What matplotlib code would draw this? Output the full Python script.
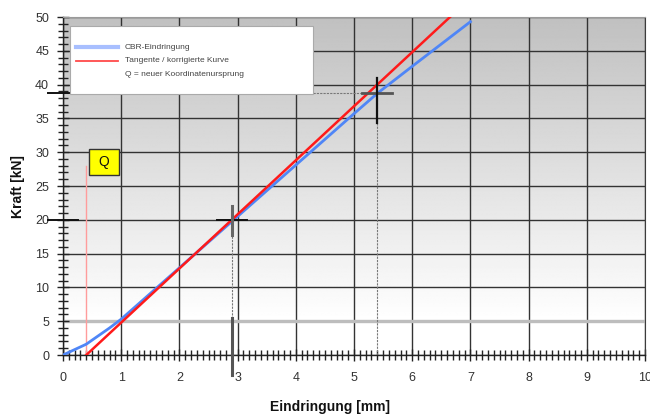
import numpy as np
import matplotlib
matplotlib.use("Agg")
import matplotlib.pyplot as plt
from matplotlib.ticker import MultipleLocator
from matplotlib.patches import Rectangle
from matplotlib.lines import Line2D

plt.rcParams['font.family'] = ['Liberation Sans', 'DejaVu Sans']

# Measured CBR penetration curve
penetration_mm = [0.0, 0.2, 0.4, 0.6, 0.8, 1.0, 1.5, 2.0, 2.5, 3.0, 3.5, 4.0,
                  4.5, 5.0, 5.4, 6.0, 6.5, 7.0]
force_kn = [0.0, 0.8, 1.6, 2.8, 4.0, 5.3, 9.1, 12.9, 16.7, 20.5, 24.3, 28.1,
            31.9, 35.7, 38.7, 42.7, 46.0, 49.3]

# Tangent / corrected curve
tangent_mm = [0.4, 6.65]
tangent_kn = [0.0, 50.0]

# New coordinate origin Q
origin_q_mm = 0.4
q_marker_top_kn = 28.0

# Readings at 2.5 mm and 5.0 mm, shifted by Q
read_mm = [2.9, 5.4]
read_kn = [20.0, 38.7]

x_ticks = list(range(0, 11))
y_ticks = list(range(0, 55, 5))
legend_labels = ["CBR-Eindringung", "Tangente / korrigierte Kurve",
                 "Q = neuer Koordinatenursprung"]

fig = plt.figure(figsize=(6.5, 4.17), dpi=100)
ax = fig.add_axes([63 / 650, 62 / 417, 582 / 650, 338 / 417])
ax.set_xlim(0, 10)
ax.set_ylim(0, 50)

# vertical gradient background: white at the bottom, grey at the top
yy = np.linspace(0, 50, 300)
shade = np.where(yy < 5, 255, 255 - (yy - 5) / 45 * 63)
img = np.repeat(shade[:, None], 2, axis=1)
ax.imshow(img, extent=[0, 10, 0, 50], origin='lower', aspect='auto',
          cmap='gray', vmin=0, vmax=255, zorder=0, interpolation='bilinear')

ax.set_xticks(x_ticks)
ax.set_yticks(y_ticks)
ax.xaxis.set_minor_locator(MultipleLocator(0.1))
ax.yaxis.set_minor_locator(MultipleLocator(1))
ax.grid(True, which='major', color='#333333', lw=1.0, zorder=1)
ax.set_axisbelow(True)
for gl, yv in zip(ax.yaxis.get_gridlines(), y_ticks):
    if yv == 5:
        gl.set_color('#bdbdbd')
        gl.set_linewidth(2.4)

ax.tick_params(which='both', direction='inout', color='#222', width=1,
               labelcolor='#333', labelsize=9)
ax.tick_params(which='major', length=8)
ax.tick_params(which='minor', length=7)
ax.tick_params(axis='x', pad=8)
ax.tick_params(axis='y', pad=6)

for side in ['left', 'bottom']:
    ax.spines[side].set_color('#222')
    ax.spines[side].set_linewidth(1)
ax.spines['top'].set_color('#9a9a9a')
ax.spines['right'].set_color('#3c3c3c')

# dashed reading lines
ax.plot([0, read_mm[1]], [read_kn[1], read_kn[1]], ls=(0, (2, 1)), color='#777', lw=0.8, zorder=2)
for xm, ym in zip(read_mm, read_kn):
    ax.plot([xm, xm], [0, ym], ls=(0, (2, 1)), color='#777', lw=0.8, zorder=2)

# curves
ax.plot([origin_q_mm, origin_q_mm], [0, q_marker_top_kn], color='#ff9c9c', lw=1, zorder=3)
ax.plot(penetration_mm, force_kn, color='#4f86f7', lw=2, zorder=4)
ax.plot(tangent_mm, tangent_kn, color='#ff1a1a', lw=1.8, zorder=5)

# crosshair markers
hx = 0.26
ax.plot([read_mm[0] - hx, read_mm[0] + hx], [read_kn[0]] * 2, color='#111', lw=1.4, zorder=6)
ax.plot([read_mm[0]] * 2, [read_kn[0] - 2.3, read_kn[0] + 2.1], color='#666', lw=2.2, zorder=6)
ax.plot([read_mm[1] - hx, read_mm[1] + hx], [read_kn[1]] * 2, color='#555', lw=2, zorder=6)
ax.plot([read_mm[1]] * 2, [read_kn[1] - 4.4, read_kn[1] + 2.3], color='#111', lw=1.6, zorder=6)
ax.plot([read_mm[0]] * 2, [-3, 5.5], color='#555', lw=2.2, zorder=6, clip_on=False)
for yv in read_kn:
    ax.plot([-hx, hx], [yv, yv], color='#111', lw=1.4, zorder=6, clip_on=False)

# Q label box
ax.add_patch(Rectangle((0.45, 26.7), 0.51, 3.7, fc='#ffff00', ec='#333', lw=1, zorder=7))
ax.text(0.705, 28.5, "Q", ha='center', va='center', fontsize=10, color='#111', zorder=8)

# legend box
ax.add_patch(Rectangle((0.012, 0.772), 0.4176, 0.201, transform=ax.transAxes,
                       fc='white', ec='#aaaaaa', lw=0.8, zorder=9))
ly = [0.911, 0.870, 0.831]
ax.add_line(Line2D([0.0223, 0.0945], [ly[0]] * 2, transform=ax.transAxes,
                   color='#a8bfff', lw=3, zorder=10))
ax.add_line(Line2D([0.0223, 0.0945], [ly[1]] * 2, transform=ax.transAxes,
                   color='#ff4a4a', lw=1.3, zorder=10))
for yv, lab in zip(ly, legend_labels):
    ax.text(0.1065, yv, lab, transform=ax.transAxes, fontsize=6, color='#444',
            va='center', ha='left', zorder=10)

fig.text(330 / 650, 1 - 407 / 417, "Eindringung [mm]", ha='center', va='center',
         fontsize=10, fontweight='bold', color='#111')
fig.text(18 / 650, 1 - 187 / 417, "Kraft [kN]", ha='center', va='center',
         rotation=90, fontsize=10, fontweight='bold', color='#111')

fig.savefig("out.png", dpi=100)
